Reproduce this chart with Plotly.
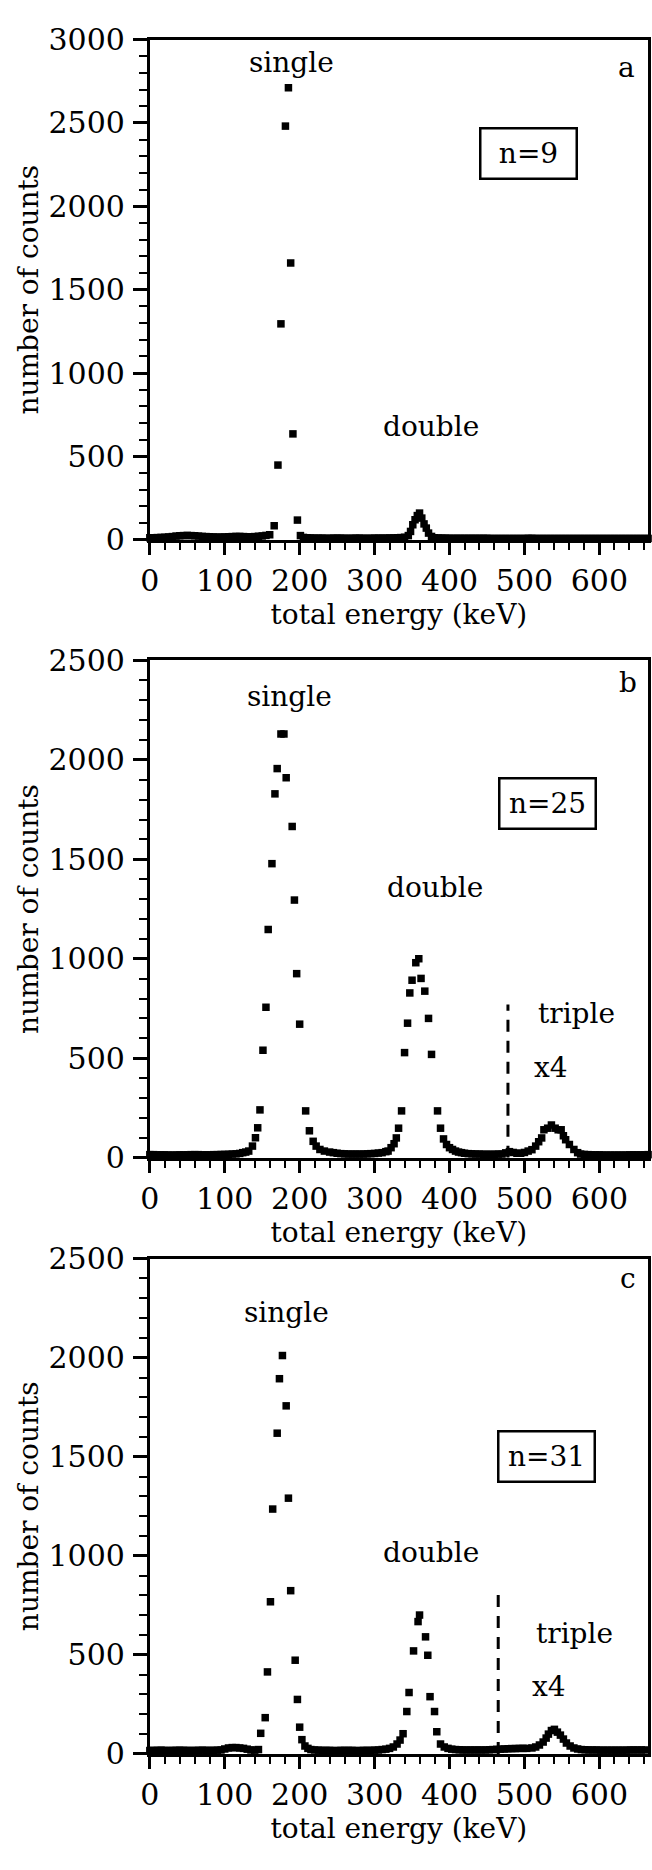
import plotly.graph_objects as go

# ---------------- data ----------------
energy_a = [0, 5, 10, 15, 20, 25, 30, 35, 40, 45, 50, 55, 60, 65, 70, 75, 80, 85, 90, 95,
            100, 105, 110, 115, 120, 125, 130, 135, 140, 145, 150, 155,
            160, 166, 171, 175, 181, 185, 188, 191, 197, 201,
            205, 210, 215, 220, 225, 230, 235, 240, 245, 250, 255, 260, 265, 270, 275, 280,
            285, 290, 295, 300, 305, 310, 315, 320, 325, 330, 335,
            340, 345, 348, 351, 354, 357, 360, 363, 366, 369, 372, 376, 380,
            385, 390, 395, 400, 405, 410, 415, 420, 425, 430, 435, 440, 445, 450, 455, 460,
            465, 470, 475, 480, 485, 490, 495, 500, 505, 510, 515, 520, 525, 530, 535, 540,
            545, 550, 555, 560, 565, 570, 575, 580, 585, 590, 595, 600, 605, 610, 615, 620,
            625, 630, 635, 640, 645, 650, 655, 660, 665]
counts_a = [12, 12, 13, 14, 15, 17, 19, 22, 24, 25, 26, 25, 24, 22, 20, 19, 18, 17, 16, 16,
            17, 18, 19, 20, 20, 19, 18, 18, 19, 21, 23, 26,
            30, 84, 448, 1295, 2481, 2711, 1660, 635, 118, 25,
            14, 12, 11, 10, 10, 10, 9, 9, 10, 10, 10, 9, 9, 9, 10, 10,
            9, 9, 9, 10, 10, 10, 10, 11, 11, 12, 13,
            15, 25, 50, 90, 120, 145, 160, 130, 95, 70, 40, 20, 12,
            11, 10, 10, 9, 9, 9, 9, 9, 9, 9, 9, 9, 9, 9, 8, 8,
            8, 8, 8, 8, 8, 8, 8, 8, 9, 9, 8, 8, 8, 8, 8, 8,
            8, 8, 8, 8, 8, 8, 8, 8, 8, 8, 8, 8, 8, 8, 8, 8,
            8, 8, 8, 8, 8, 8, 8, 8, 8]

energy_b = [0, 5, 10, 15, 20, 25, 30, 35, 40, 45, 50, 55, 60, 65, 70, 75, 80, 85, 90, 95,
            100, 105, 110, 115, 120,
            124, 128, 132, 137, 141, 144, 147, 151, 155, 158, 163, 167, 170, 175, 179, 182,
            190, 193, 196, 200, 208, 213, 218, 222, 227, 233, 240, 245,
            250, 255, 260, 265, 270, 275, 280, 285, 290, 295, 300, 305,
            310, 315, 318, 322, 326, 329, 332, 336, 340, 344, 347, 350, 355, 359, 362, 367,
            372, 376, 384, 388, 392, 396, 400, 404, 408, 412, 416,
            420, 425, 430, 435, 440, 445, 450, 455, 460, 465, 470, 475, 480, 485, 490, 495, 500,
            505, 510, 515, 519, 523, 526, 531, 536, 541, 545, 549, 552, 555, 560, 566, 571,
            575, 580, 585, 590, 595, 600, 605, 610, 615, 620, 625, 630, 635, 640, 645, 650,
            655, 660, 665]
counts_b = [15, 15, 14, 14, 14, 13, 13, 13, 14, 14, 14, 15, 15, 15, 14, 14, 14, 15, 15, 16,
            16, 17, 18, 19, 21,
            25, 28, 33, 58, 100, 150, 240, 540, 756, 1147, 1478, 1829, 1956, 2130, 2130, 1910,
            1665, 1295, 925, 671, 235, 135, 82, 58, 41, 33, 28, 25,
            22, 20, 19, 18, 18, 18, 18, 18, 19, 20, 21, 23,
            25, 30, 33, 50, 70, 99, 148, 235, 528, 676, 828, 892, 980, 1000, 901, 837,
            700, 519, 235, 148, 94, 66, 50, 41, 33, 28, 25,
            22, 20, 19, 18, 18, 17, 17, 17, 17, 18, 18, 24, 30, 26, 22, 22, 26,
            33, 40, 58, 80, 99, 140, 148, 164, 148, 140, 140, 110, 90, 66, 41, 25,
            18, 16, 15, 14, 14, 14, 13, 13, 13, 13, 13, 13, 13, 14, 14, 14,
            14, 14, 15]

energy_c = [0, 5, 10, 15, 20, 25, 30, 35, 40, 45, 50, 55, 60, 65, 70, 75, 80, 85, 90, 95,
            100, 105, 110, 115, 120, 125, 130, 135, 140, 145,
            148, 154, 157, 161, 164, 170, 173, 177, 182, 185, 188, 194, 197, 200, 203, 207, 211,
            215, 220, 225, 230, 235, 240, 245, 250, 255, 260, 265, 270, 275, 280, 285, 290,
            295, 300, 305, 310, 315,
            320, 325, 330, 334, 338, 343, 346, 352, 358, 360, 368, 371, 374, 380, 383, 388,
            393, 398,
            403, 408, 413, 418, 423, 428, 433, 438, 443, 448, 453, 458, 463, 468, 473, 478,
            483, 488, 493, 498,
            503, 510, 515, 520, 525, 529, 532, 536, 540, 544, 548, 552, 556, 561, 566, 571,
            576, 581, 586, 591, 596, 601, 606, 611, 616, 621, 626, 631, 636, 641, 646, 651,
            656, 661, 666]
counts_c = [17, 18, 18, 19, 18, 17, 18, 18, 19, 18, 18, 17, 18, 18, 19, 18, 18, 18, 19, 20,
            25, 30, 32, 32, 30, 28, 24, 20, 19, 22,
            104, 183, 414, 768, 1236, 1619, 1894, 2011, 1757, 1291, 824, 473, 275, 135, 72, 40, 28,
            22, 20, 19, 18, 18, 18, 17, 17, 18, 18, 18, 18, 17, 17, 18, 18,
            18, 19, 20, 22, 24,
            28, 35, 50, 70, 102, 214, 310, 520, 668, 701, 591, 498, 289, 214, 112, 50,
            35, 28,
            24, 22, 21, 20, 20, 20, 20, 20, 20, 20, 21, 22, 23, 24, 25, 26,
            27, 27, 28, 28,
            28, 30, 35, 45, 60, 80, 100, 118, 124, 110, 95, 75, 55, 40, 30, 25,
            22, 21, 20, 20, 20, 19, 19, 19, 19, 19, 19, 19, 19, 20, 20, 20,
            20, 20, 20]

# dashed separators (energy, height in counts)
cut_b = [478, 770]
cut_c = [465, 830]

y_max = [3000, 2500, 2500]
x_max = 665
x_tick_labels = ["0", "100", "200", "300", "400", "500", "600"]
x_tick_vals = [0, 100, 200, 300, 400, 500, 600]

assert len(energy_a) == len(counts_a)
assert len(energy_b) == len(counts_b)
assert len(energy_c) == len(counts_c)

# ---------------- figure ----------------
FONT = "DejaVu Serif"
FS = 28
FS_TICK = 30
W, H = 652, 1870

x_dom = [142 / W, 648 / W]
y_doms = [[1 - 532 / H, 1 - 22 / H],
          [1 - 1162 / H, 1 - 655 / H],
          [1 - 1770 / H, 1 - 1265 / H]]

fig = go.Figure()
series = [(energy_a, counts_a), (energy_b, counts_b), (energy_c, counts_c)]
for i, (ex, cy) in enumerate(series):
    sfx = "" if i == 0 else str(i + 1)
    fig.add_trace(go.Scatter(
        x=ex, y=cy, mode="markers",
        marker=dict(symbol="square", size=7.5, color="black", line=dict(width=0)),
        xaxis="x" + sfx, yaxis="y" + sfx, showlegend=False, cliponaxis=False))

for i, cut in [(1, cut_b), (2, cut_c)]:
    sfx = str(i + 1)
    fig.add_trace(go.Scatter(
        x=[cut[0], cut[0]], y=[0, cut[1]], mode="lines",
        line=dict(color="black", width=3, dash="12px,9px"),
        xaxis="x" + sfx, yaxis="y" + sfx, showlegend=False))

axis_common = dict(showline=True, linewidth=3, linecolor="black", mirror=True,
                   showgrid=False, zeroline=False, ticks="outside", tickcolor="black",
                   tickfont=dict(family=FONT, size=FS_TICK, color="black"))

for i in range(3):
    sfx = "" if i == 0 else str(i + 1)
    fig.update_layout({
        "xaxis" + sfx: dict(
            axis_common, domain=x_dom, anchor="y" + sfx, range=[0, x_max],
            tickvals=x_tick_vals, ticktext=x_tick_labels, ticklen=12, tickwidth=2.5,
            minor=dict(dtick=20, tick0=0, ticks="outside", ticklen=7, tickwidth=2,
                       tickcolor="black"),
            ticklabelstandoff=0,
            title=dict(text="total energy (keV)", standoff=6,
                       font=dict(family=FONT, size=FS, color="black"))),
        "yaxis" + sfx: dict(
            axis_common, domain=y_doms[i], anchor="x" + sfx, range=[0, y_max[i]],
            tick0=0, dtick=500, ticklen=14, tickwidth=2.5,
            minor=dict(dtick=100, tick0=0, ticks="outside", ticklen=8, tickwidth=2,
                       tickcolor="black"),
            ticklabelstandoff=2,
            title=dict(text="number of counts", standoff=2,
                       font=dict(family=FONT, size=FS, color="black"))),
    })

tf = dict(family=FONT, size=FS, color="black")
notes = [
    # (panel, x, y, text, boxed)
    (0, 189, 2860, "single", False),
    (0, 375, 680, "double", False),
    (0, 506, 2316, "n=9", True),
    (0, 636, 2835, "a", False),
    (1, 186, 2320, "single", False),
    (1, 380, 1357, "double", False),
    (1, 531, 1780, "n=25", True),
    (1, 569, 725, "triple", False),
    (1, 535, 454, "x4", False),
    (1, 638, 2390, "b", False),
    (2, 182, 2230, "single", False),
    (2, 375, 1015, "double", False),
    (2, 530, 1500, "n=31", True),
    (2, 567, 610, "triple", False),
    (2, 533, 338, "x4", False),
    (2, 638, 2400, "c", False),
]
anns = []
for p, x, y, t, boxed in notes:
    sfx = "" if p == 0 else str(p + 1)
    a = dict(x=x, y=y, xref="x" + sfx, yref="y" + sfx, text=t, showarrow=False,
             font=tf, xanchor="center", yanchor="middle")
    if boxed:
        a.update(bordercolor="black", borderwidth=2.5, borderpad=6, width=82, height=36,
                 bgcolor="white")
    anns.append(a)

fig.update_layout(
    width=W, height=H, margin=dict(l=0, r=0, t=0, b=0, pad=0),
    paper_bgcolor="white", plot_bgcolor="white",
    font=dict(family=FONT, size=FS, color="black"),
    annotations=anns, showlegend=False)

fig.write_html("out.html", config={"displayModeBar": False},
               post_script="document.body.style.margin='0px';")
